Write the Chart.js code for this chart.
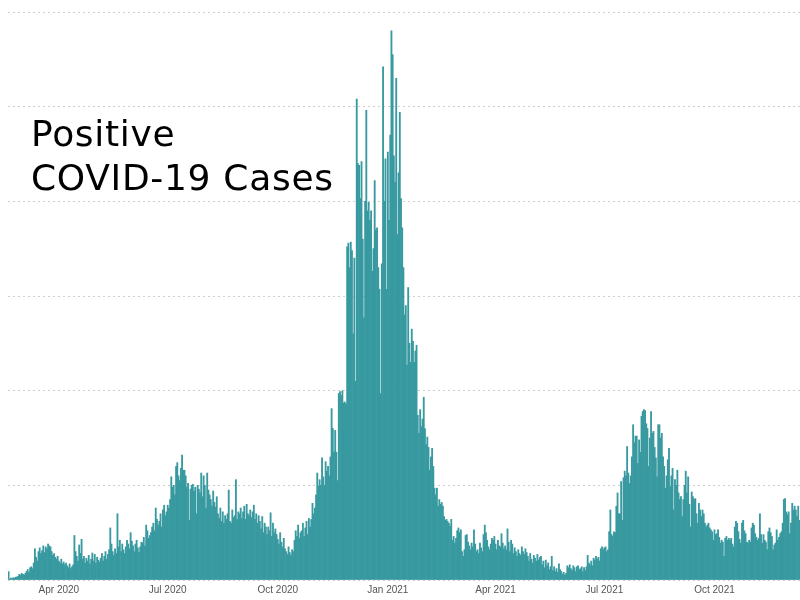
<!DOCTYPE html>
<html>
<head>
<meta charset="utf-8">
<script src="https://cdn.jsdelivr.net/npm/chart.js@4"></script>
<style>
  html, body { margin: 0; padding: 0; background: #fff; }
  #wrap { position: relative; width: 800px; height: 600px; }
  #title {
    position: absolute; left: 31px; top: 112px;
    font-family: "DejaVu Sans", sans-serif; font-size: 36px; line-height: 44px;
    letter-spacing: 0.7px; color: #000; pointer-events: none; white-space: nowrap;
  }
</style>
</head>
<body>
<div id="wrap">
  <canvas id="c" width="800" height="600"></canvas>
  <div id="title">Positive<br>COVID-19 Cases</div>
</div>
<script>
// First day of the daily series
const startDate = [2020, 1, 19]; // 19 Feb 2020 (month is 0-based)

// Tick labels shown on the x axis (first day of each quarter)
const tickLabels = ['Apr 2020', 'Jul 2020', 'Oct 2020', 'Jan 2021', 'Apr 2021', 'Jul 2021', 'Oct 2021'];

// Daily positive cases, one row per week
const cases2020a = [
  90, 10, 20, 15, 25, 20, 30,
  30, 40, 60, 50, 70, 60, 50,
  70, 90, 110, 80, 130, 140, 120,
  180, 330, 240, 200, 300, 340, 280,
  310, 360, 290, 350, 330, 380, 360,
  350, 300, 260, 280, 240, 220, 250,
  200, 180, 220, 170, 190, 160, 180,
  150, 130, 170, 120, 140, 160, 470,
  300, 250, 200, 370, 280, 430, 220,
  250, 180, 230, 200, 260, 170, 220,
  285, 200, 270, 180, 240, 210, 190,
  230, 280, 200, 250, 300, 220, 270,
  320, 550, 380, 300, 260, 330, 280,
  700, 350, 420, 300, 380, 320, 280,
  350, 420, 380, 330, 500, 410, 360,
  300, 380, 420, 340, 290, 350, 400,
  390, 450, 360, 580, 520, 440, 470,
  500, 560, 600, 520, 760, 640, 580,
  620, 700, 560, 740, 790, 680, 720,
  790, 760, 850, 1090, 980, 1000, 900,
  1200, 1240, 1100, 1050, 1180, 1320, 1160,
  1160, 1100, 980, 1020, 630, 960, 1000,
  1010, 940, 980, 700, 1000, 960, 920,
  1130, 880, 1100, 1000, 760, 1130, 950,
  900, 850, 780, 940, 820, 770, 880,
  700, 650, 760, 620, 720, 600, 680,
  640, 700, 950, 620, 600, 740, 660,
  680, 1060, 640, 720, 700, 760, 650,
  720, 780, 640, 800, 700, 680, 740,
  660, 720, 790, 640, 700, 600, 680,
  620, 540, 670, 500, 600, 560, 480,
  560, 520, 710, 460, 600, 500, 540,
  480, 430, 380, 500, 400, 350, 440,
  330, 300, 270, 350, 290, 260, 320,
  300, 420, 520, 460, 580, 440, 500,
  520, 600, 460, 550, 620, 480, 650
];
const casesWinter = [
  560, 640, 810, 700, 760, 900, 1130,
  990, 1060, 1000, 1290, 1090, 1000, 1250,
  1150, 1200, 1100, 1300, 1810, 1600, 1350,
  1580, 1350, 1050, 1970, 1990, 1950, 2000,
  1870, 1880, 1860, 3520, 3560, 3300, 3570,
  3480, 2600, 3400, 2100, 5080, 4400, 4380,
  4030, 4420, 3600, 2770, 4000, 4960, 3900,
  3990, 3800, 3900, 3260, 3500, 4220, 3700,
  3720, 3300, 3070, 1970, 3340, 5420, 4000,
  4450, 3070, 4520, 3800, 4700, 5800, 5550,
  4480, 4200, 5300, 3650, 4300, 4940, 4030,
  3720, 3300, 2800, 2900, 2270, 3090, 2500,
  2300, 2650, 2520, 2300, 2420, 2480, 1740,
  1550, 1800, 1620, 1700, 1930, 1600, 1430,
  1510, 1400, 1160, 1300, 1390, 1200, 970
];
const cases2021 = [
  900, 970, 780, 850, 800, 820, 780,
  670, 630, 640, 620, 600, 570, 640,
  420, 460, 390, 440, 520, 550, 500,
  530, 300, 250, 320, 470, 480, 400,
  360, 320, 390, 350, 530, 380, 300,
  320, 280, 390, 340, 300, 480, 580,
  500, 420, 350, 320, 380, 440, 420,
  460, 380, 320, 420, 360, 350, 490,
  390, 330, 360, 320, 540, 400, 300,
  420, 380, 280, 340, 300, 250, 320,
  280, 260, 350, 300, 270, 330, 290,
  250, 200, 280, 220, 180, 260, 230,
  200, 270, 210, 240, 250, 160, 200,
  130, 210, 150, 180, 110, 140, 250,
  100, 140, 90, 120, 80, 170, 110,
  90, 60, 80, 50, 70, 150, 130,
  160, 120, 100, 150, 130, 90, 140,
  150, 110, 120, 140, 90, 130, 100,
  140, 260, 180, 160, 200, 150, 230,
  210, 250, 220, 240, 200, 330, 350,
  320, 340, 350, 300, 320, 510, 740,
  480, 460, 510, 500, 780, 920, 700,
  700, 1040, 630, 1080, 1150, 1100, 1410,
  1130, 1020, 1100, 1300, 1640, 1450, 1520,
  1520, 1230, 1480, 1350, 1730, 1780, 1800,
  1790, 1650, 1600, 1200, 1500, 1780, 1550,
  1570, 1400, 1290, 1090, 1640, 1640, 1500,
  1550, 1300, 1200, 970, 1100, 1270, 1390,
  990, 1100, 1180, 740, 1060, 1000, 1160,
  920, 850, 880, 670, 850, 1000, 1150,
  920, 1090, 800, 560, 930, 880, 850,
  860, 700, 600, 810, 740, 670, 740,
  700, 600, 560, 580, 600, 550, 530,
  510, 420, 530, 480, 490, 530, 450,
  390, 420, 400, 250, 440, 460, 420,
  440, 420, 440, 380, 350, 560, 620,
  600, 510, 430, 390, 600, 630, 520,
  490, 400, 390, 420, 400, 550, 600,
  580, 490, 450, 420, 440, 700, 480,
  390, 480, 420, 400, 320, 510, 550,
  500, 460, 320, 370, 390, 530, 420,
  450, 490, 510, 600, 850, 860, 720,
  690, 720, 490, 600, 810, 740, 780,
  740, 670, 780, 630
];

const values = cases2020a.concat(casesWinter, cases2021);
const monthNames = ['Jan','Feb','Mar','Apr','May','Jun','Jul','Aug','Sep','Oct','Nov','Dec'];
const labels = values.map((v, i) => {
  const d = new Date(Date.UTC(startDate[0], startDate[1], startDate[2] + i));
  return { m: d.getUTCMonth(), day: d.getUTCDate(), y: d.getUTCFullYear() };
});
const catLabels = labels.map(l => l.day + ' ' + monthNames[l.m] + ' ' + l.y);

function tickFor(i) {
  const l = labels[i];
  if (l.day !== 1 || l.m % 3 !== 0) return '';
  const t = monthNames[l.m] + ' ' + l.y;
  return tickLabels.includes(t) ? t : '';
}

new Chart(document.getElementById('c'), {
  type: 'bar',
  data: {
    labels: catLabels,
    datasets: [{
      data: values,
      backgroundColor: '#389aa0',
      borderWidth: 0,
      barPercentage: 1.0,
      categoryPercentage: 1.0
    }]
  },
  options: {
    responsive: false,
    animation: false,
    layout: { padding: { left: 8, top: 12, right: 0, bottom: 0 } },
    plugins: { legend: { display: false }, tooltip: { enabled: false } },
    scales: {
      x: {
        grid: { display: false, drawTicks: false },
        border: { display: false },
        afterFit: (s) => { s.paddingLeft = 0; s.paddingRight = 0; s.height = 20; },
        ticks: {
          autoSkip: false, maxRotation: 0, minRotation: 0, padding: 4,
          color: '#555', font: { family: 'Arial, "Liberation Sans", sans-serif', size: 10 },
          callback: (v, i) => tickFor(i)
        }
      },
      y: {
        min: 0, max: 6000,
        ticks: { display: false, stepSize: 1000 },
        border: { display: false, dash: [2, 3] },
        grid: { color: '#cfcfcf', lineWidth: 1, drawTicks: false, tickLength: 0 }
      }
    }
  }
});
</script>
</body>
</html>
